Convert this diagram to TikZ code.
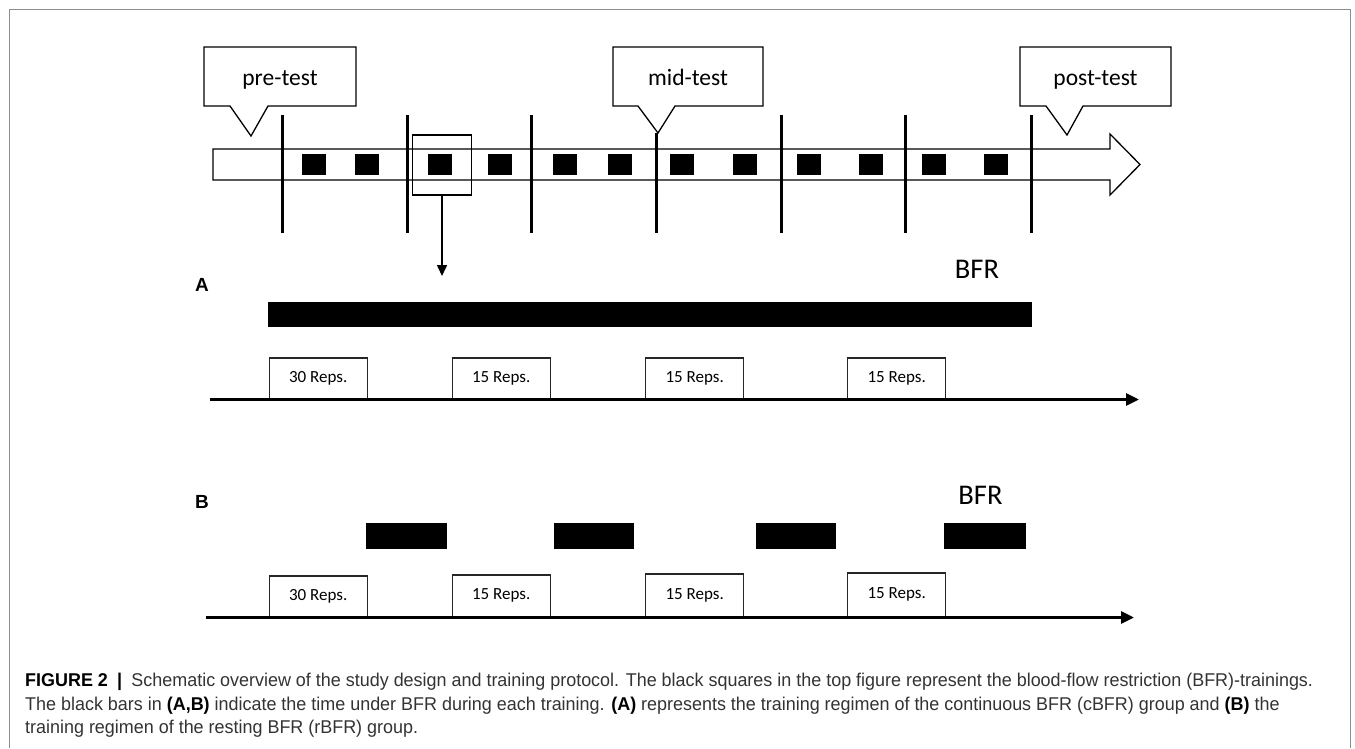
\documentclass[tikz,border=0pt]{standalone}
\usepackage{fontspec}
\setmainfont{Carlito}
\newfontfamily\capfont[FakeStretch=0.97]{Liberation Sans}
\newfontfamily\lblfont{Liberation Sans}
\usetikzlibrary{arrows.meta}
\begin{document}
\begin{tikzpicture}[x=1pt,y=-1pt,
  frameline/.style={draw=black!45, line width=1pt},
  callout/.style={draw=black, line width=1.3pt, fill=white, line join=miter},
  callouttext/.style={font=\fontsize{23.5}{26}\selectfont, inner sep=0pt, anchor=base},
  bigarrow/.style={draw=black, line width=1.3pt, fill=white, line join=miter},
  tick/.style={draw=black, line width=3pt},
  session/.style={fill=black, draw=none, minimum width=24pt, minimum height=21pt, inner sep=0pt},
  selbox/.style={draw=black, line width=1.2pt, minimum width=59.5pt, minimum height=60pt, inner sep=0pt},
  droparrow/.style={draw=black, line width=1.5pt, -{Triangle[length=11pt,width=10pt]}},
  bfrbar/.style={fill=black, draw=none, inner sep=0pt},
  repbox/.style={draw=black!85, line width=1.3pt, fill=white, minimum width=98pt, minimum height=41pt, inner sep=0pt, font=\fontsize{17}{20}\selectfont},
  timeline/.style={draw=black, line width=3pt, -{Triangle[length=13pt,width=12pt]}},
  bfrtext/.style={font=\fontsize{28.5}{30}\selectfont, inner sep=0pt},
  paneltext/.style={font=\lblfont\bfseries\fontsize{19}{22}\selectfont, inner sep=0pt},
  captext/.style={font=\capfont\fontsize{18.5}{22}\selectfont, text=black!80, inner sep=0pt, anchor=base west}
]
\useasboundingbox (0,0) rectangle (1355,748);
\fill[white] (0,0) rectangle (1355,748);
\draw[frameline] (9,748) -- (9,9) -- (1350,9) -- (1350,748);

% big timeline arrow
\draw[bigarrow] (213,149) -- (1110,149) -- (1110,134) -- (1140,164.5) -- (1110,195) -- (1110,180) -- (213,180) -- cycle;

% training sessions
\foreach \x [count=\i] in {314,367,440,500,565,620,682,744.5,809,871,934,996}
  \node[session] (s\i) at (\x,164.5) {};

% vertical separators
\foreach \x [count=\i] in {282,407,531,781,905,1031}
  \draw[tick] (\x,115) -- (\x,233);
\draw[tick, line width=3.4pt] (656.5,133) -- (656.5,233);

% callouts
\draw[callout] (204,47) -- (356,47) -- (356,106) -- (268,106) -- (251,136) -- (230,106) -- (204,106) -- cycle;
\node[callouttext] (pre) at (280,85) {pre-test};
\draw[callout] (613,47) -- (763,47) -- (763,106) -- (675,106) -- (658,133) -- (638,106) -- (613,106) -- cycle;
\node[callouttext] (mid) at (688,85) {mid-test};
\draw[callout] (1020,47) -- (1171,47) -- (1171,106) -- (1083,106) -- (1067,135) -- (1046,106) -- (1020,106) -- cycle;
\node[callouttext] (post) at (1095.5,85) {post-test};

% selected session and drop arrow
\node[selbox] (sel) at (442,165) {};
\coordinate (selend) at (442,276);
\draw[droparrow] (sel.south) -- (selend);

% panel A
\node[paneltext] (labA) at (202,285) {A};
\node[bfrtext] (bfrA) at (977,269) {BFR};
\fill[bfrbar] (268,302) rectangle (1032,327);
\node[repbox, anchor=south west] (a1) at (268.5,399.5) {30 Reps.};
\node[repbox, anchor=south west] (a2) at (451.5,399.5) {15 Reps.};
\node[repbox, anchor=south west] (a3) at (645,399.5) {15 Reps.};
\node[repbox, anchor=south west] (a4) at (847,399.5) {15 Reps.};
\coordinate (tA0) at (210,399.5);
\coordinate (tA1) at (1139,399.5);
\draw[timeline] (tA0) -- (tA1);

% panel B
\node[paneltext] (labB) at (202,502) {B};
\node[bfrtext] (bfrB) at (980.5,495) {BFR};
\fill[bfrbar] (366,523) rectangle (446.5,549);
\fill[bfrbar] (554,523) rectangle (634,549);
\fill[bfrbar] (756,523) rectangle (836,549);
\fill[bfrbar] (944,523) rectangle (1026,549);
\node[repbox, anchor=south west] (b1) at (268.5,617.5) {30 Reps.};
\node[repbox, anchor=south west, minimum height=42pt] (b2) at (451.5,617.5) {15 Reps.};
\node[repbox, anchor=south west, minimum height=43pt] (b3) at (645,617.5) {15 Reps.};
\node[repbox, anchor=south west, minimum height=44pt] (b4) at (847,617.5) {15 Reps.};
\coordinate (tB0) at (206,617.5);
\coordinate (tB1) at (1134,617.5);
\draw[timeline] (tB0) -- (tB1);

% caption
\node[captext] (cap1) at (25,686) {{\color{black}\bfseries FIGURE 2\enspace|}\enspace Schematic overview of the study design and training protocol. The black squares in the top figure represent the blood-flow restriction (BFR)-trainings.};
\node[captext] (cap2) at (25,710) {The black bars in {\color{black}\bfseries (A,B)} indicate the time under BFR during each training. {\color{black}\bfseries (A)} represents the training regimen of the continuous BFR (cBFR) group and {\color{black}\bfseries (B)} the};
\node[captext] (cap3) at (25,733) {training regimen of the resting BFR (rBFR) group.};
\end{tikzpicture}
\end{document}
